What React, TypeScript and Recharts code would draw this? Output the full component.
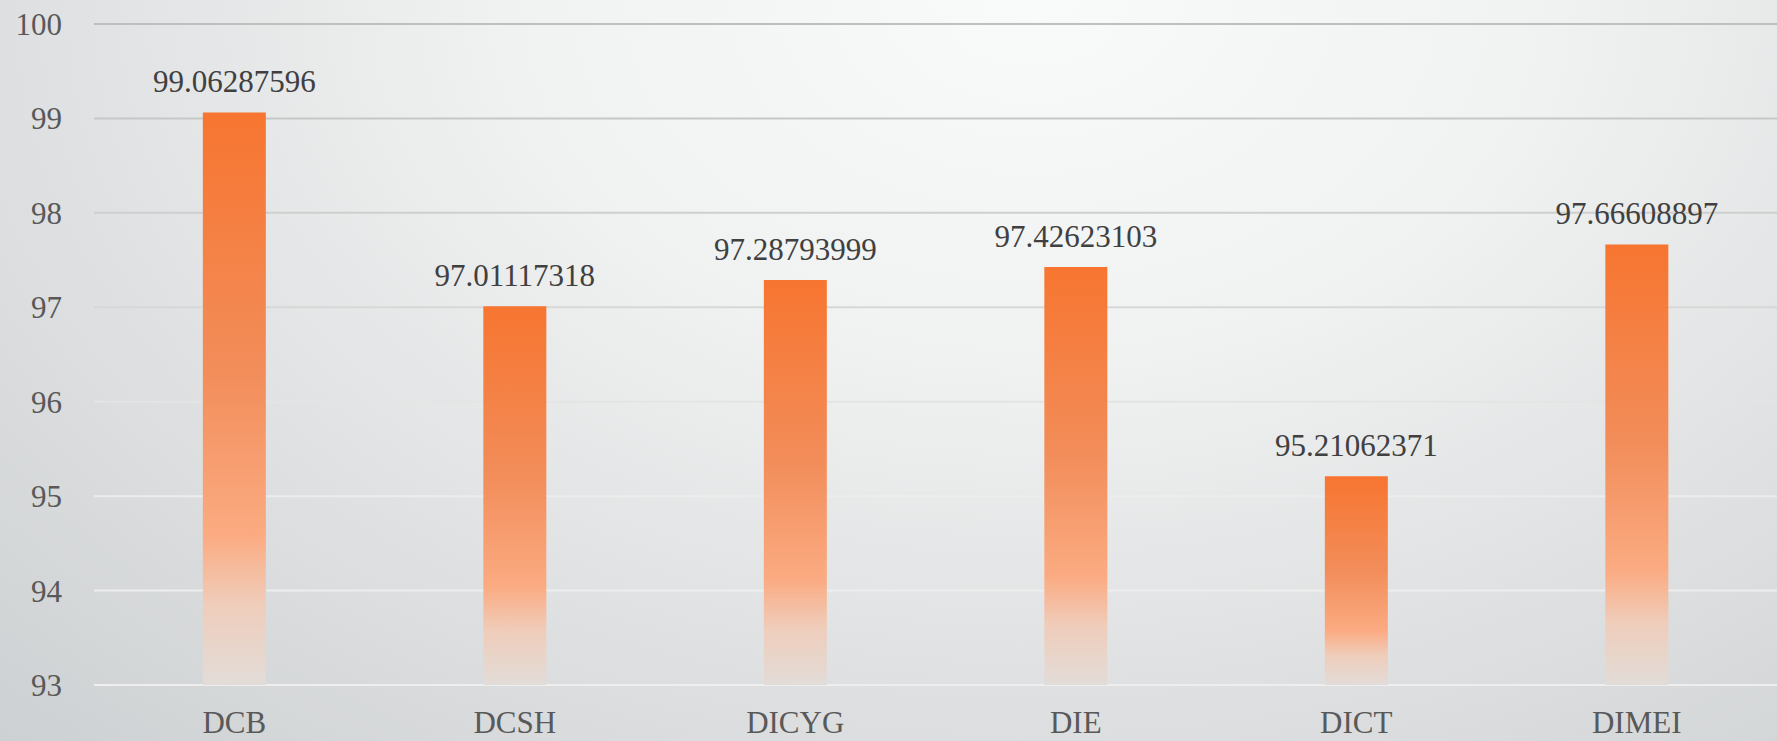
import { BarChart, Bar, XAxis, YAxis, CartesianGrid, LabelList } from 'recharts'

const categories = ['DCB', 'DCSH', 'DICYG', 'DIE', 'DICT', 'DIMEI']
const values = [99.06287596, 97.01117318, 97.28793999, 97.42623103, 95.21062371, 97.66608897]
const yTicks = [93, 94, 95, 96, 97, 98, 99, 100]

const data = categories.map((name, i) => ({ name, value: values[i] }))

const font = 'Liberation Serif, DejaVu Serif, serif'

export default function App() {
  return (
    <div
      style={{
        position: 'absolute',
        left: 0,
        top: 0,
        width: 1777,
        height: 741,
        fontFamily: font,
        background:
          'radial-gradient(ellipse 85% 140% at 58% 0%, #f9fafa 0%, #f0f1f1 35%, #dfe1e2 65%, #cdd0d2 100%)',
      }}
    >
      <BarChart
        width={1777}
        height={741}
        data={data}
        margin={{ top: 24, right: 0, left: 0, bottom: 0 }}
        barCategoryGap="38.8%"
        style={{ fontFamily: font }}
      >
        <defs>
          <linearGradient id="barGrad" x1="0" y1="0" x2="0" y2="1">
            <stop offset="0%" stopColor="#f77530" />
            <stop offset="45%" stopColor="#f28d5a" />
            <stop offset="74%" stopColor="#fbab82" />
            <stop offset="86%" stopColor="#efcdbb" />
            <stop offset="100%" stopColor="#e2dcd8" />
          </linearGradient>
          <linearGradient id="gridGrad" gradientUnits="userSpaceOnUse" x1="0" y1="0" x2="0" y2="741">
            <stop offset="0%" stopColor="#bdbdbd" />
            <stop offset="40%" stopColor="#d6d6d6" />
            <stop offset="62%" stopColor="#ececec" />
            <stop offset="100%" stopColor="#efefef" />
          </linearGradient>
        </defs>
        <CartesianGrid vertical={false} stroke="url(#gridGrad)" strokeWidth={2} />
        <XAxis
          dataKey="name"
          axisLine={false}
          tickLine={false}
          tickSize={0}
          tickMargin={26}
          height={56}
          tick={{ fill: '#595959', fontSize: 31, style: { fontFamily: font } }}
        />
        <YAxis
          domain={[93, 100]}
          ticks={yTicks}
          allowDataOverflow
          axisLine={false}
          tickLine={false}
          tickSize={0}
          tickMargin={32}
          width={94}
          tick={{ fill: '#595959', fontSize: 31, style: { fontFamily: font } }}
        />
        <Bar dataKey="value" fill="url(#barGrad)" isAnimationActive={false}>
          <LabelList
            dataKey="value"
            position="top"
            offset={20}
            fill="#404040"
            fontSize={31}
            style={{ fontFamily: font }}
          />
        </Bar>
      </BarChart>
    </div>
  )
}
